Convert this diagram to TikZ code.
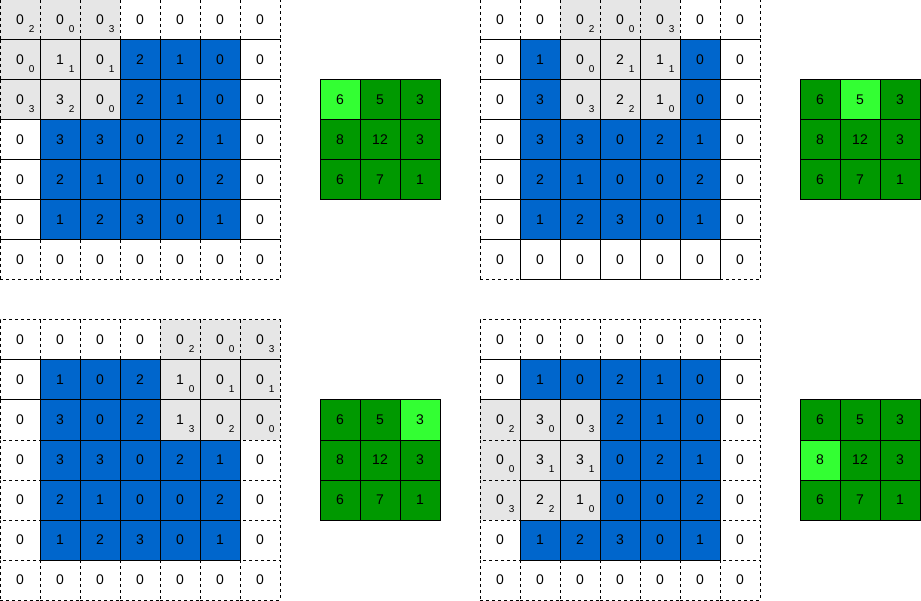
\documentclass[tikz,border=0pt]{standalone}
\usepackage{fontspec}
\setmainfont{Liberation Sans}
\usetikzlibrary{positioning}
\definecolor{inblue}{HTML}{0066CC}
\definecolor{wingray}{HTML}{E6E6E6}
\definecolor{outgreen}{HTML}{009900}
\definecolor{hitgreen}{HTML}{33FF33}
\tikzset{cell/.style={draw, line width=1pt, minimum size=40pt, inner sep=0pt, outer sep=0pt, font=\fontsize{14}{14}\selectfont}}
\tikzset{padline/.style={dash pattern=on 3pt off 3pt}}
\tikzset{outcell/.style={cell, solid, fill=outgreen}}
\newcommand{\wsub}[1]{\rlap{\hspace{5pt}\raisebox{-8pt}[0pt][0pt]{\fontsize{10}{10}\selectfont #1}}}

% #1 name, #2/#3 grid corner, #4/#5 window row/col, #6 output x, #7 solid bottom row
\newcommand{\convstep}[7]{%
	\foreach \pass in {0,1}{
		\foreach \vals [count=\r from 0] in {{0,0,0,0,0,0,0},{0,1,0,2,1,0,0},{0,3,0,2,1,0,0},{0,3,3,0,2,1,0},{0,2,1,0,0,2,0},{0,1,2,3,0,1,0},{0,0,0,0,0,0,0}}{
			\foreach \v [count=\c from 0] in \vals {
				\pgfmathtruncatemacro\ispad{(\r==0)||(\r==6)||(\c==0)||(\c==6)}
				\pgfmathtruncatemacro\issolid{(\ispad==0)||((#7==1)&&(\r==6)&&(\c>0)&&(\c<6))}
				\pgfmathtruncatemacro\inwin{(\r>=#4)&&(\r<=#4+2)&&(\c>=#5)&&(\c<=#5+2)}
				\ifnum\issolid=\pass
					\ifnum\inwin=1
						\def\cellfill{wingray}
						\pgfmathtruncatemacro\w{{2,0,3,0,1,1,3,2,0}[3*(\r-#4)+\c-#5]}
						\def\celltext{\v\wsub{\w}}
					\else
						\ifnum\ispad=1 \def\cellfill{white}\else \def\cellfill{inblue}\fi
						\def\celltext{\v}
					\fi
					\ifnum\issolid=0 \def\cellline{padline}\else \def\cellline{solid}\fi
					\node[cell, fill=\cellfill, \cellline] (#1-\r-\c) at (#2+40*\c+20, #3+40*\r+20) {\celltext};
				\fi
			}
		}
	}
	% output map
	\foreach \vals [count=\r from 0] in {{6,5,3},{8,12,3},{6,7,1}}{
		\foreach \v [count=\c from 0] in \vals {
			\pgfmathtruncatemacro\ishit{(\r==#4/2)&&(\c==#5/2)}
			\ifnum\ishit=1 \def\cellfill{hitgreen}\else \def\cellfill{outgreen}\fi
			\node[outcell, fill=\cellfill] (#1o-\r-\c) at (#6+40*\c+20, #3+80+40*\r+20) {\v};
		}
	}
}

\begin{document}
\begin{tikzpicture}[x=1pt, y=-1pt]
	\useasboundingbox (0,0) rectangle (921,601);
	
	\convstep{tl}{0}{0}{0}{0}{320}{0}
	\convstep{tr}{480}{0}{0}{2}{800}{1}
	\convstep{bl}{0}{320}{0}{4}{320}{0}
	\convstep{br}{480}{320}{2}{0}{800}{0}
\end{tikzpicture}
\end{document}
